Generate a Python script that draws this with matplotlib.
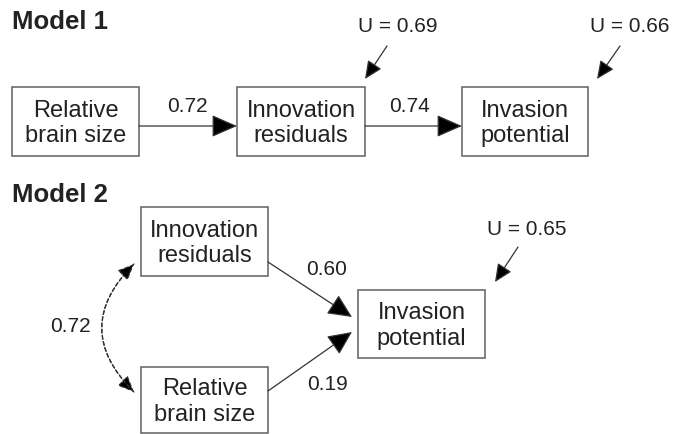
import matplotlib.pyplot as plt
from matplotlib.patches import Rectangle, FancyArrowPatch

plt.rcParams['font.family'] = ['Liberation Sans', 'DejaVu Sans']

# diagram content
titles = ["Model 1", "Model 2"]
m1_nodes = ["Relative\nbrain size", "Innovation\nresiduals", "Invasion\npotential"]
m1_paths = ["0.72", "0.74"]
m1_unexplained = ["U = 0.69", "U = 0.66"]
m2_nodes = ["Innovation\nresiduals", "Relative\nbrain size", "Invasion\npotential"]
m2_paths = ["0.60", "0.19"]
m2_corr = "0.72"
m2_unexplained = "U = 0.65"

fig = plt.figure(figsize=(6.81, 4.35), dpi=100)
ax = fig.add_axes([0, 0, 1, 1])
ax.set_xlim(0, 681)
ax.set_ylim(435, 0)
ax.axis('off')

txt = '#222222'
edge = '#606060'


def box(x0, y0, x1, y1, label):
    ax.add_patch(Rectangle((x0, y0), x1 - x0, y1 - y0, fill=False, ec=edge, lw=1.1))
    ax.text((x0 + x1) / 2, (y0 + y1) / 2 + 1, label, ha='center', va='center',
            fontsize=17, color=txt, linespacing=1.2)


def arrow(p0, p1, hl=0.8, hw=0.35, ms=20, ls='-', rad=0.0):
    a = FancyArrowPatch(p0, p1, arrowstyle=f'-|>,head_length={hl},head_width={hw}',
                        mutation_scale=ms, color='#333333', lw=0.9, linestyle=ls,
                        connectionstyle=f'arc3,rad={rad}', shrinkA=0, shrinkB=0)
    a.set_facecolor('black')
    ax.add_patch(a)


def label(x, y, s, size=15):
    ax.text(x, y, s, ha='center', va='center', fontsize=size, color=txt)


# Model 1
ax.text(12, 22, titles[0], fontsize=18.5, fontweight='bold', color=txt, va='center')
m1_boxes = [(12, 88, 139, 157), (237, 88, 365, 157), (462, 88, 588, 157)]
for b, n in zip(m1_boxes, m1_nodes):
    box(*b, n)
arrow((139, 127), (237, 127))
arrow((365, 127), (462, 127))
label(187, 107, m1_paths[0])
label(410, 107, m1_paths[1])
label(398, 27, m1_unexplained[0])
arrow((387, 47), (365, 80), hl=0.55, hw=0.25)
label(630, 27, m1_unexplained[1])
arrow((620, 47), (597, 80), hl=0.55, hw=0.25)

# Model 2
ax.text(12, 195, titles[1], fontsize=18.5, fontweight='bold', color=txt, va='center')
m2_boxes = [(141, 208, 268, 277), (141, 368, 268, 434), (358, 291, 485, 359)]
for b, n in zip(m2_boxes, m2_nodes):
    box(*b, n)
arrow((268, 263), (352, 318), hl=0.75, hw=0.35)
arrow((268, 392), (352, 333), hl=0.75, hw=0.35)
label(327, 270, m2_paths[0])
label(327, 385, m2_paths[1])
arrow((134, 265), (134, 393), hl=0.5, hw=0.22, ls=(0, (3, 2)), rad=0.5)
arrow((134, 393), (134, 265), hl=0.5, hw=0.22, ls=(0, (3, 2)), rad=-0.5)
label(70, 327, m2_corr)
label(527, 230, m2_unexplained)
arrow((518, 248), (495, 283), hl=0.55, hw=0.25)

fig.savefig('out.png', dpi=100)
